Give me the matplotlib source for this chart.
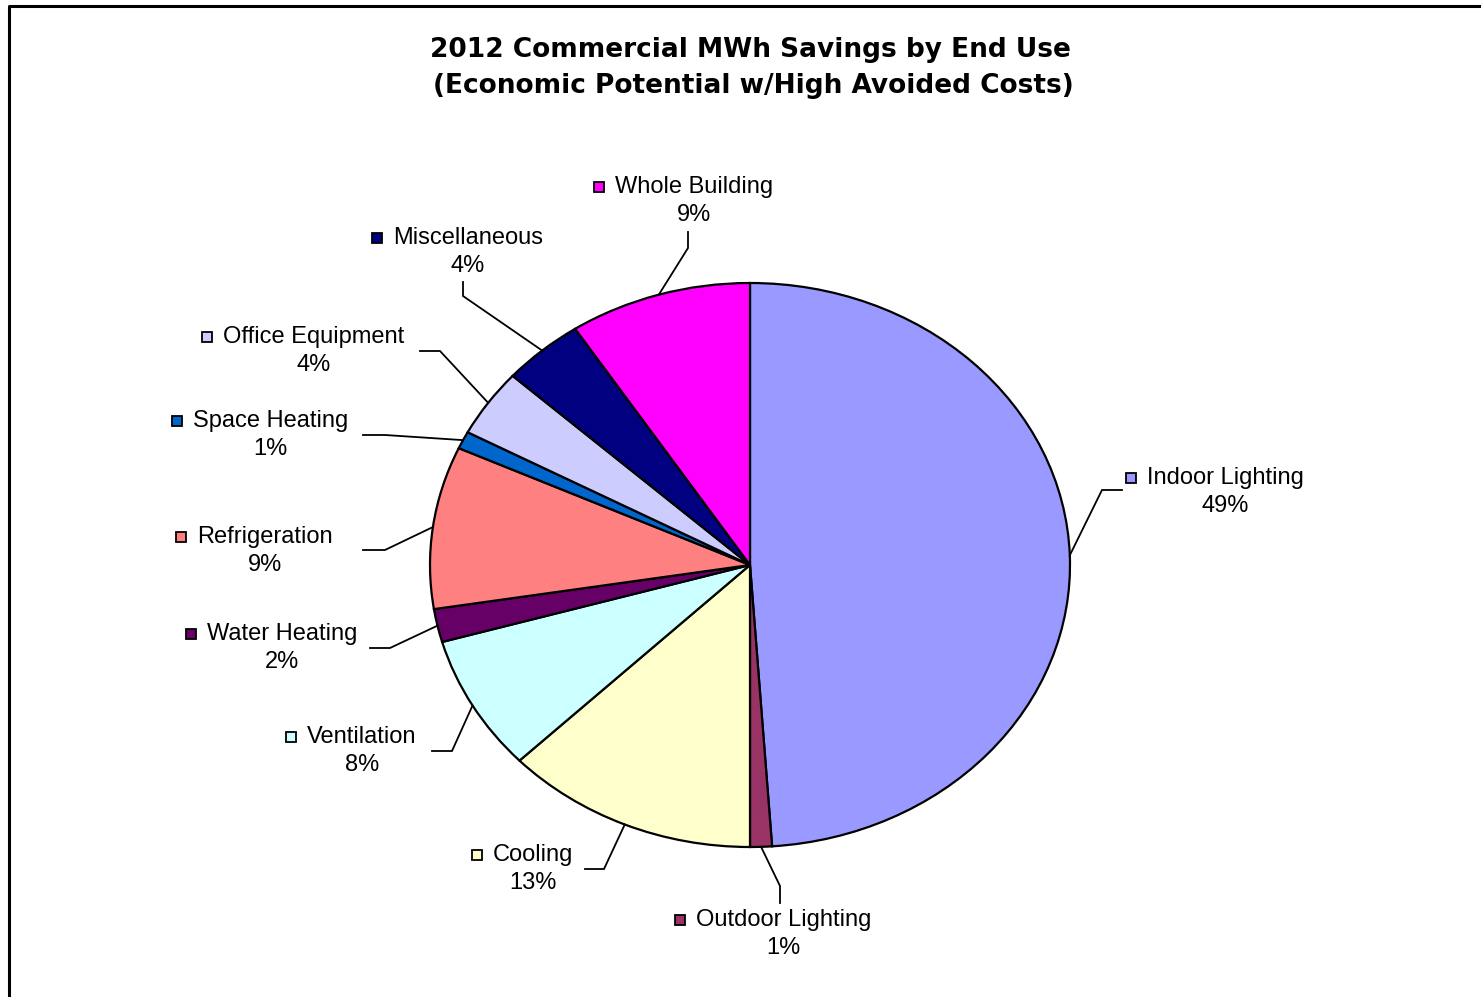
import numpy as np
import matplotlib
matplotlib.use('Agg')
from matplotlib import pyplot as plt
from matplotlib.lines import Line2D

plt.rcParams['font.family'] = ['Liberation Sans', 'DejaVu Sans']

end_uses = ['Indoor Lighting', 'Outdoor Lighting', 'Cooling', 'Ventilation',
            'Water Heating', 'Refrigeration', 'Space Heating', 'Office Equipment',
            'Miscellaneous', 'Whole Building']
shares = [48.9, 1.1, 12.8, 7.8, 1.9, 9.3, 1.0, 3.9, 4.1, 9.2]
colors = ['#9999FF', '#993366', '#FFFFCC', '#CCFFFF', '#660066',
          '#FF8080', '#0066CC', '#CCCCFF', '#000080', '#FF00FF']

# label layout in pixels: left edge of name, centre of the two-line block
label_pos = [(1147, 492), (696, 934), (493, 869), (307, 751), (207, 648),
             (197, 551), (193, 435), (223, 351), (393, 252), (615, 201)]
leader_elbow = [(1102, 490), (780, 886), (604, 869), (452, 751), (390, 648),
                (385, 550), (385, 435), (440, 351), (463, 296), (688, 248)]
leader_end = [(1122, 490), (780, 903), (585, 869), (432, 751), (370, 648),
              (363, 550), (363, 435), (420, 351), (463, 282), (688, 232)]

W, H = 1481, 997
CX, CY, RX, RY = 750, 565, 320, 282


def px(x, y):
    return (x - CX) / RX, (CY - y) / RY


fig = plt.figure(figsize=(W / 100, H / 100), dpi=100)
ax = fig.add_axes([0, 0, 1, 1])

wedges, _ = ax.pie(shares, colors=colors, startangle=90, counterclock=False,
                   wedgeprops=dict(edgecolor='black', linewidth=1.6))
ax.set_aspect('auto')
ax.set_xlim(px(0, 0)[0], px(W, 0)[0])
ax.set_ylim(px(0, H)[1], px(0, 0)[1])
ax.axis('off')

for w, name, val, col, (lx, ly), elb, end in zip(wedges, end_uses, shares, colors,
                                                 label_pos, leader_elbow, leader_end):
    mid = np.deg2rad((w.theta1 + w.theta2) / 2)
    a = (np.cos(mid), np.sin(mid))
    e1 = px(*elb)
    e2 = px(*end)
    ax.plot([a[0], e1[0], e2[0]], [a[1], e1[1], e2[1]], color='black', lw=1.3,
            solid_joinstyle='miter')
    tx, ty = px(lx, ly)
    ax.text(tx, ty, f'{name}\n{round(val)}%', ha='left', va='center',
            multialignment='center', fontsize=17, linespacing=1.33)
    mx, my = px(lx - 16, ly - 14)
    ax.plot(mx, my, marker='s', markersize=7.5, markerfacecolor=col,
            markeredgecolor='black', markeredgewidth=1.3)

title_font = dict(family=['DejaVu Sans'], fontsize=19, fontweight='bold')
fig.text(750 / W, 1 - 50 / H, '2012 Commercial MWh Savings by End Use',
         ha='center', va='center', **title_font)
fig.text(753 / W, 1 - 86 / H, '(Economic Potential w/High Avoided Costs)',
         ha='center', va='center', **title_font)

# chart-area border (cropped on the right and bottom)
fig.add_artist(Line2D([9 / W, 9 / W, 1], [0, 1 - 6 / H, 1 - 6 / H],
                      transform=fig.transFigure, color='black', lw=2.2))

fig.savefig('out.png', dpi=100)
